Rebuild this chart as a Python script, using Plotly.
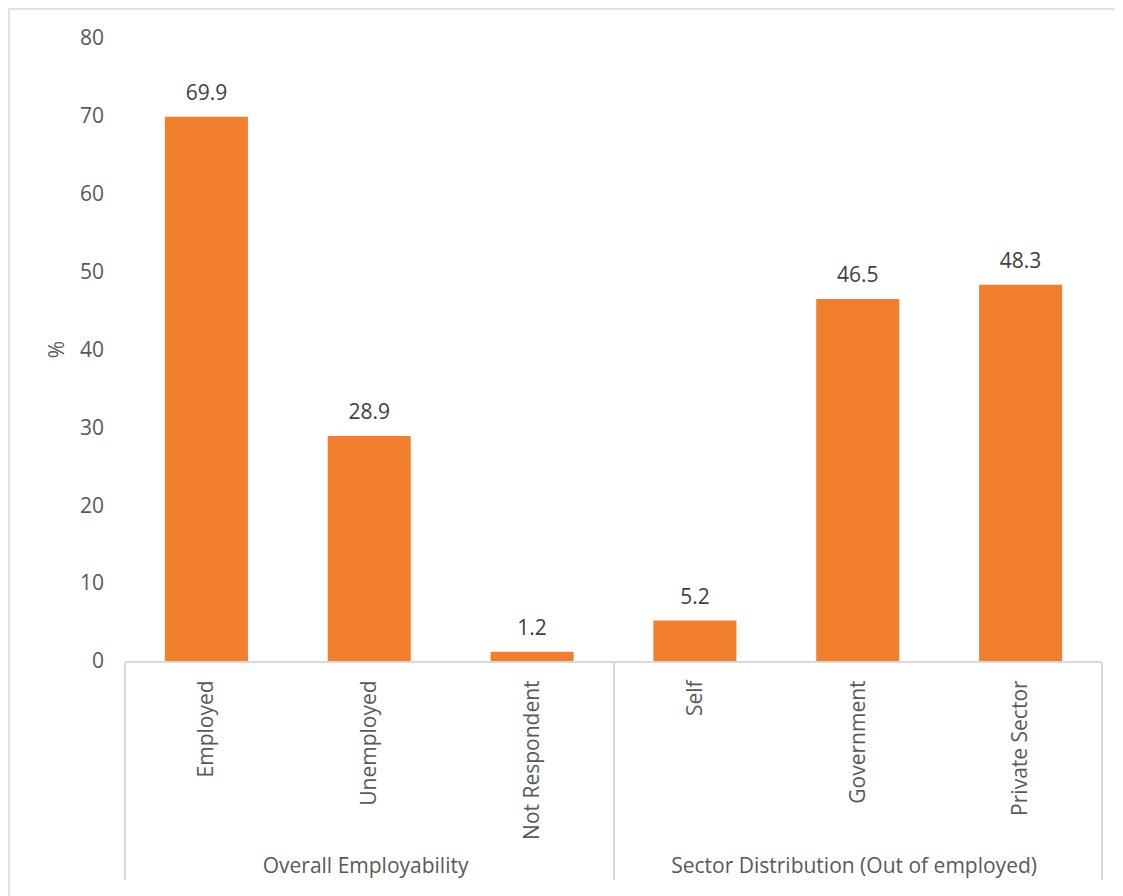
import plotly.graph_objects as go

groups = ["Overall Employability"] * 3 + ["Sector Distribution (Out of employed)"] * 3
categories = ["Employed", "Unemployed", "Not Respondent", "Self", "Government", "Private Sector"]
values = [69.9, 28.9, 1.2, 5.2, 46.5, 48.3]
y_ticks = [0, 10, 20, 30, 40, 50, 60, 70, 80]

FONT = "Open Sans"
TXT = "#595959"
LINE = "#D9D9D9"
FS = 21

W, H = 1115, 888
L, T, R, B = 117, 30, 21, 235
PW, PH = W - L - R, H - T - B

fig = go.Figure()
fig.add_trace(go.Bar(
    x=[groups, categories], y=values,
    width=0.51,
    marker=dict(color="#F27F2E", line=dict(width=0)),
    hoverinfo="skip", showlegend=False,
))
fig.add_trace(go.Scatter(
    x=[groups, categories], y=values,
    mode="markers+text",
    text=[f"{v:.1f}" for v in values],
    textposition="top center",
    textfont=dict(family=FONT, size=FS, color="#404040"),
    marker=dict(size=17, opacity=0),
    hoverinfo="skip", showlegend=False, cliponaxis=False,
))

fig.update_layout(
    width=W, height=H,
    margin=dict(l=L, r=R, t=T, b=B),
    paper_bgcolor="white", plot_bgcolor="white",
    font=dict(family=FONT, size=FS, color=TXT),
    shapes=[dict(type="rect", xref="paper", yref="paper",
                 x0=-(L - 1) / PW, x1=1 + (R + 20) / PW,
                 y0=-(B + 20) / PH, y1=1 + (T - 1) / PH,
                 line=dict(color=LINE, width=1.5), fillcolor="rgba(0,0,0,0)", layer="below")],
)
fig.update_yaxes(
    range=[0, 80], tickvals=y_ticks, showgrid=False, zeroline=False,
    showline=False, ticks="", ticklabelstandoff=20,
    tickfont=dict(family=FONT, size=FS, color=TXT),
    title=dict(text="%", font=dict(family=FONT, size=FS, color=TXT), standoff=9),
)
fig.update_xaxes(
    type="multicategory", showline=True, linecolor=LINE, linewidth=2,
    showgrid=False, ticks="", tickangle=-90, ticklabelstandoff=9,
    showdividers=True, dividercolor=LINE, dividerwidth=2,
    tickfont=dict(family=FONT, size=FS, color=TXT),
)

fig.write_html("out.html")
